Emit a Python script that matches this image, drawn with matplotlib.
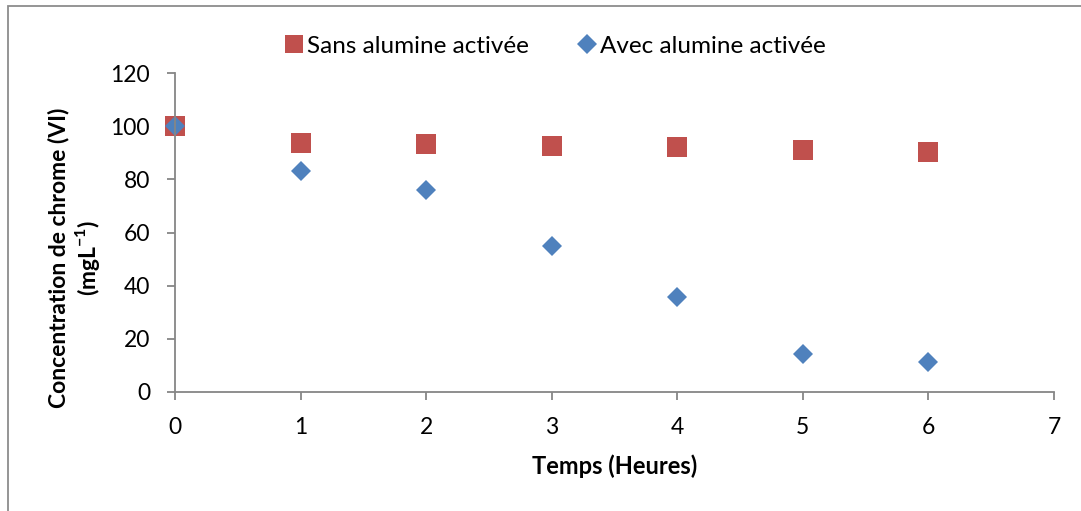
import matplotlib
matplotlib.use("Agg")
import matplotlib.pyplot as plt
from matplotlib.patches import Rectangle
from matplotlib.lines import Line2D

plt.rcParams['font.family'] = ['Lato', 'DejaVu Sans']
plt.rcParams['mathtext.fontset'] = 'custom'
plt.rcParams['mathtext.rm'] = 'Lato'
plt.rcParams['mathtext.bf'] = 'Lato:bold'

# Time (hours) and chromium(VI) concentration (mg/L)
temps = [0, 1, 2, 3, 4, 5, 6]
sans_alumine = [100, 93.8, 93.2, 92.5, 92.2, 90.9, 90.1]
avec_alumine = [100, 83.3, 76.1, 55.0, 35.7, 14.3, 11.3]

x_ticks = [0, 1, 2, 3, 4, 5, 6, 7]
y_ticks = [0, 20, 40, 60, 80, 100, 120]

red = '#C0504D'
blue = '#4F81BD'
axis_grey = '#868686'

fig = plt.figure(figsize=(10.81, 5.11), dpi=100)

# chart-area border
fig.patches.append(Rectangle((8 / 1081, -0.05), 1.2, 1 - 6 / 511 + 0.05,
                             transform=fig.transFigure, fill=False,
                             edgecolor='#8c8c8c', linewidth=1.3))

ax = fig.add_axes([175 / 1081, 1 - 392 / 511, (1054 - 175) / 1081, (392 - 73) / 511])

ax.plot(temps, sans_alumine, linestyle='none', marker='s', markersize=14,
        markeredgewidth=0, color=red, clip_on=False)
ax.plot(temps, avec_alumine, linestyle='none', marker='D', markersize=10,
        markeredgewidth=0, color=blue, clip_on=False)

ax.set_xlim(0, 7)
ax.set_ylim(0, 120)
ax.set_xticks(x_ticks)
ax.set_yticks(y_ticks)

for side in ('top', 'right'):
    ax.spines[side].set_visible(False)
for side in ('left', 'bottom'):
    ax.spines[side].set_color(axis_grey)
    ax.spines[side].set_linewidth(1.3)
ax.tick_params(axis='both', direction='out', length=6, width=1.3,
               color=axis_grey, labelsize=16.5, pad=12)

ax.set_xlabel('Temps (Heures)', fontsize=17, fontweight='bold')
ax.xaxis.set_label_coords(0.5, -0.195)
ax.set_ylabel('Concentration de chrome (VI)\n(mgL$^{\\mathbf{-1}}$)', fontsize=16.5,
              fontweight='bold', linespacing=1.15)
ax.yaxis.set_label_coords(-0.083, 0.42)

handles = [
    Line2D([], [], linestyle='none', marker='s', markersize=13,
           markeredgewidth=0, color=red),
    Line2D([], [], linestyle='none', marker='D', markersize=10.5,
           markeredgewidth=0, color=blue),
]
fig.legend(handles, ['Sans alumine activée', 'Avec alumine activée'],
           loc='center', bbox_to_anchor=(555 / 1081, 1 - 46 / 511), ncol=2,
           frameon=False, fontsize=17.5, handlelength=0.8, handletextpad=0.15,
           columnspacing=2.0)

fig.savefig('out.png', dpi=100)
